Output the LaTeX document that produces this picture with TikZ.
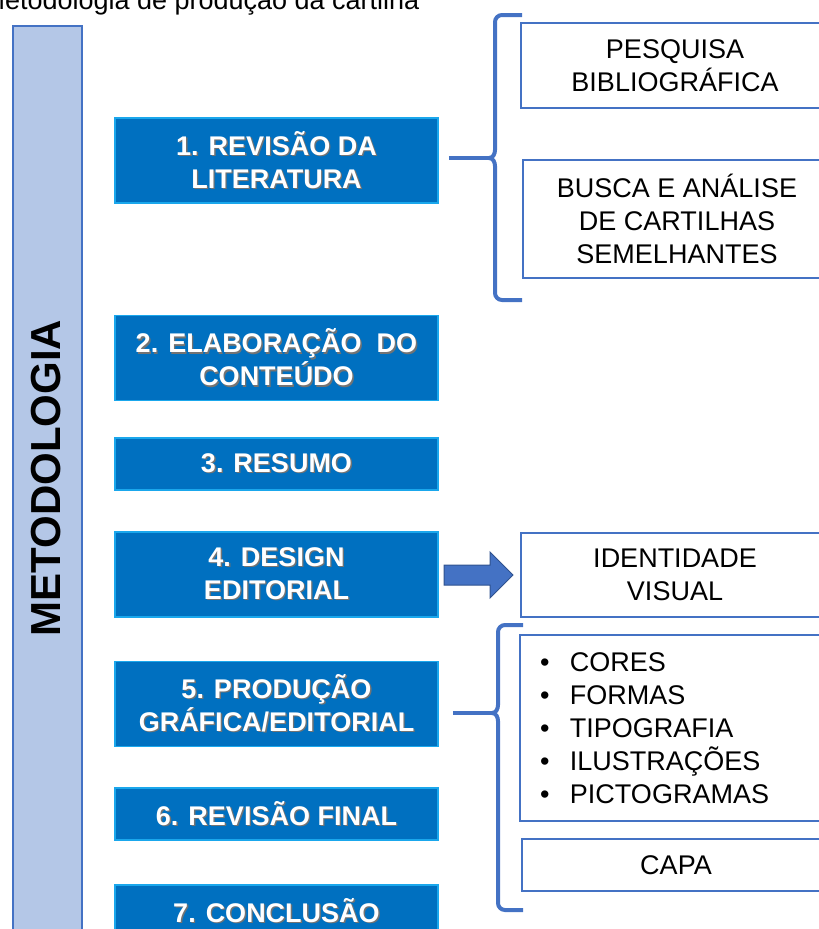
\documentclass[tikz,border=0pt]{standalone}
\usepackage{fontspec}
\setmainfont{Liberation Sans}
\definecolor{stepblue}{HTML}{0070C0}
\definecolor{stepedge}{HTML}{1AA7EC}
\definecolor{linkblue}{HTML}{4472C4}
\definecolor{barblue}{HTML}{B4C7E7}
\definecolor{arrowedge}{HTML}{2F528F}
\newcommand{\shtxt}[1]{\rlap{\hspace{1.3pt}\raisebox{-1.3pt}{\textcolor{black!55}{#1}}}#1}
\tikzset{
  stepbox/.style={draw=stepedge,line width=1.5pt,fill=stepblue,text=white,minimum width=323pt,
    font=\fontsize{27}{33}\selectfont\bfseries,align=center,inner sep=0pt},
  itembox/.style={draw=linkblue,line width=1.5pt,fill=white,minimum width=308pt,
    font=\fontsize{27}{33}\selectfont,align=center,inner sep=0pt},
  bracket/.style={draw=linkblue,line width=4pt}
}
\begin{document}
\begin{tikzpicture}[x=1pt,y=-1pt]
\useasboundingbox (0,0) rectangle (819,929);
\clip (0,0) rectangle (819,929);
\node[anchor=base west,font=\fontsize{27}{33}\selectfont] (T) at (-21,9.5) {Metodologia de produção da cartilha};
\node[draw=linkblue,line width=2pt,fill=barblue,minimum width=69pt,minimum height=940pt,anchor=north west,inner sep=0pt] (M) at (12,25) {};
\node[rotate=90,font=\fontsize{42}{42}\selectfont\bfseries] (MT) at (46,478) {METODOLOGIA};
\begin{scope}[every node/.style={stepbox}]
    \node[minimum height=85pt] (S1) at (276.5,160.5) {\shtxt{1. REVISÃO DA}\\\shtxt{LITERATURA}};
    \node[minimum height=85pt] (S2) at (276.5,358) {\shtxt{2. ELABORAÇÃO~~DO}\\\shtxt{CONTEÚDO}};
    \node[minimum height=52pt] (S3) at (276.5,464) {\shtxt{3. RESUMO}};
    \node[minimum height=85pt] (S4) at (276.5,574.5) {\shtxt{4. DESIGN}\\\shtxt{EDITORIAL}};
    \node[minimum height=85pt] (S5) at (276.5,704) {\shtxt{5. PRODUÇÃO}\\\shtxt{GRÁFICA/EDITORIAL}};
    \node[minimum height=52pt] (S6) at (276.5,814) {\shtxt{6. REVISÃO FINAL}};
    \node[minimum height=52pt] (S7) at (276.5,911) {\shtxt{7. CONCLUSÃO}};
\end{scope}
\begin{scope}[every node/.style={itembox}]
    \node[minimum height=85pt] (P) at (675,65.5) {PESQUISA\\BIBLIOGRÁFICA};
    \node[minimum height=118pt] (B) at (677,219) {BUSCA E ANÁLISE\\DE CARTILHAS\\SEMELHANTES};
    \node[minimum height=84pt] (I) at (675,575) {IDENTIDADE\\VISUAL};
    \node[minimum height=186pt,align=left,text width=268pt,inner xsep=20pt] (L) at (674,728)
      {•\hspace{20.5pt}CORES\\•\hspace{20.5pt}FORMAS\\•\hspace{20.5pt}TIPOGRAFIA\\•\hspace{20.5pt}ILUSTRAÇÕES\\•\hspace{20.5pt}PICTOGRAMAS};
    \node[minimum height=52pt] (C) at (676,865) {CAPA};
\end{scope}
\coordinate (K1) at (489,158);
\coordinate (K2) at (492,713);
\draw[bracket] (522,15) -- (502,15) to[out=180,in=90] (495,22) -- (495,150) to[out=-90,in=0] (K1)
  to[out=0,in=90] (495,166) -- (495,293) to[out=-90,in=180] (502,300) -- (522,300);
\draw[bracket] (523,625) -- (505,625) to[out=180,in=90] (498,632) -- (498,705) to[out=-90,in=0] (K2)
  to[out=0,in=90] (498,721) -- (498,903) to[out=-90,in=180] (505,910) -- (523,910);
\draw[bracket] ([xshift=10pt]S1.east |- K1) -- (K1);
\draw[bracket] ([xshift=14pt]S5.east |- K2) -- (K2);
\draw[draw=arrowedge,fill=linkblue,line width=1pt] (444,565) -- (490,565) -- (490,552) -- (513,575)
  -- (490,598) -- (490,585) -- (444,585) -- cycle;
\end{tikzpicture}
\end{document}
